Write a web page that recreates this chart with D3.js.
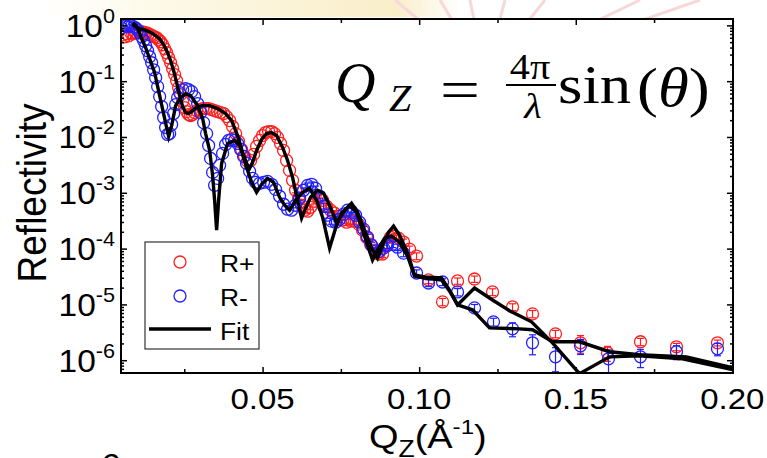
<!DOCTYPE html>
<html><head><meta charset="utf-8">
<script src="https://cdn.jsdelivr.net/npm/d3@7"></script>
<style>body{margin:0;background:#fff}svg{display:block}</style>
</head><body>
<svg id="chart" width="767" height="458"></svg>
<script>
// ---------- data ----------
const xTickValues = [0.05, 0.10, 0.15, 0.20];
const xTickLabels = ["0.05", "0.10", "0.15", "0.20"];
const xMinorTicks = [0.025, 0.075, 0.125, 0.175];
const yTickExponents = [0, -1, -2, -3, -4, -5, -6];
const xDomain = [0.0048, 0.2002];
const yDomain = [5.9e-7, 1.3];
const legendLabels = ["R+", "R-", "Fit"];

// [Qz, reflectivity, relative error]
const rPlus = [
[0.00533,0.676,0],[0.00597,0.623,0],[0.00661,0.705,0],[0.00725,0.649,0],[0.00788,0.735,0],[0.00852,0.705,0],[0.00916,0.766,0],[0.00980,0.735,0],[0.01044,0.766,0],[0.01108,0.766,0],[0.01171,0.766,0],[0.01235,0.735,0],[0.01299,0.735,0],[0.01363,0.705,0],[0.01427,0.676,0],[0.01491,0.649,0],[0.01554,0.623,0],[0.01618,0.598,0],[0.01682,0.551,0],[0.01746,0.508,0],[0.01810,0.449,0],[0.01874,0.380,0],[0.01937,0.323,0],[0.02001,0.263,0],[0.02065,0.214,0],[0.02129,0.167,0],[0.02193,0.131,0],[0.02257,0.102,0],[0.02320,0.0766,0],[0.02384,0.0574,0],[0.02448,0.0431,0],[0.02512,0.0336,0],[0.02576,0.0285,0],[0.02640,0.0252,0],[0.02703,0.0242,0],[0.02767,0.0252,0],[0.02831,0.0274,0],[0.02895,0.0297,0],[0.02991,0.0310,0],[0.03086,0.0323,0],[0.03182,0.0323,0],[0.03278,0.0323,0],[0.03373,0.0310,0],[0.03469,0.0297,0],[0.03565,0.0285,0],[0.03661,0.0274,0],[0.03756,0.0263,0],[0.03852,0.0232,0],[0.03948,0.0197,0],[0.04043,0.0154,0],[0.04139,0.0115,0],[0.04235,0.0083,0],[0.04331,0.00598,0],[0.04426,0.00449,0],[0.04522,0.00365,0],[0.04618,0.00380,0],[0.04713,0.00487,0],[0.04809,0.00676,0],[0.04905,0.00866,0],[0.05001,0.0106,0],[0.05096,0.0120,0],[0.05192,0.0125,0],[0.05288,0.0125,0],[0.05384,0.0115,0],[0.05479,0.0098,0],[0.05575,0.00766,0],[0.05671,0.00574,0],[0.05767,0.00380,0],[0.05862,0.00252,0],[0.05958,0.00167,0],
[0.06054,0.00111,0.1],[0.06150,0.00080,0.1],[0.06246,0.000598,0.1],[0.06341,0.000487,0.1],[0.06437,0.000468,0.1],[0.06533,0.000551,0.1],[0.06660,0.000705,0.1],[0.06788,0.00080,0.1],[0.06916,0.000735,0.1],[0.07043,0.000574,0.11],[0.07171,0.000487,0.11],[0.07299,0.000431,0.11],[0.07426,0.000380,0.12],[0.07554,0.000323,0.12],[0.07682,0.000297,0.12],[0.07809,0.000310,0.12],[0.07937,0.000310,0.12],[0.08065,0.000274,0.12],[0.08192,0.000214,0.13],[0.08320,0.000160,0.13],[0.08448,0.000120,0.13],[0.08575,9.4e-5,0.13],[0.08703,8.0e-5,0.14],[0.08831,8.0e-5,0.14],[0.08958,1.11e-4,0.13],[0.09086,1.60e-4,0.13],[0.09213,1.67e-4,0.13],[0.09341,1.54e-4,0.13],[0.09501,1.31e-4,0.13],[0.09692,9.8e-5,0.13],[0.09916,7.35e-5,0.14],[0.10299,2.74e-5,0.14],[0.10746,1.11e-5,0.15],[0.11225,2.63e-5,0.13],[0.11767,2.85e-5,0.13],[0.12342,1.67e-5,0.14],[0.12981,9.0e-6,0.14],[0.13619,6.76e-6,0.15],[0.14353,2.97e-6,0.15],[0.15151,2.05e-6,0.35],[0.16013,1.36e-6,0.3],[0.17066,2.14e-6,0.15],[0.18215,1.74e-6,0.15],[0.19524,2.05e-6,0.12]
];
const rMinus = [
[0.00501,0.90,0],[0.00565,1.02,0],[0.00629,0.98,0],[0.00693,0.94,0],[0.00756,1.02,0],[0.00820,0.98,0],[0.00884,0.94,0],[0.00948,0.90,0],[0.01012,0.83,0],[0.01076,0.735,0],[0.01140,0.623,0],[0.01203,0.529,0],[0.01267,0.431,0],[0.01331,0.351,0],[0.01395,0.274,0],[0.01459,0.214,0],[0.01522,0.160,0],[0.01586,0.115,0],[0.01650,0.0798,0],[0.01714,0.0529,0],[0.01778,0.0351,0],[0.01842,0.0223,0],[0.01905,0.0148,0],[0.01969,0.0111,0],[0.02033,0.0115,0],[0.02097,0.0167,0],[0.02161,0.0263,0],[0.02225,0.0380,0],[0.02288,0.0508,0],[0.02352,0.0623,0],[0.02448,0.0705,0],[0.02544,0.0735,0],[0.02640,0.0705,0],[0.02735,0.0649,0],[0.02831,0.0529,0],[0.02927,0.0397,0],[0.03022,0.0274,0],[0.03118,0.0181,0],[0.03214,0.0115,0],[0.03278,0.00705,0],[0.03342,0.00413,0],[0.03405,0.00232,0],[0.03469,0.00136,0],[0.03565,0.00181,0],[0.03629,0.00310,0],[0.03724,0.00508,0],[0.03820,0.00735,0],[0.03916,0.00866,0],[0.04012,0.0090,0],[0.04107,0.00866,0],[0.04203,0.00766,0],[0.04299,0.00598,0],[0.04394,0.00449,0],[0.04490,0.00336,0],[0.04586,0.00242,0],[0.04682,0.00181,0],[0.04777,0.00154,0],[0.04905,0.00148,0],[0.05033,0.00154,0],[0.05160,0.00160,0],[0.05288,0.00142,0],[0.05415,0.00115,0],[0.05543,8.66e-4,0],[0.05671,6.23e-4,0],[0.05799,5.08e-4,0],[0.05926,4.87e-4,0],
[0.06054,5.98e-4,0.1],[0.06182,8.0e-4,0.1],[0.06309,1.11e-3,0.1],[0.06437,1.36e-3,0.1],[0.06565,1.42e-3,0.1],[0.06692,1.20e-3,0.1],[0.06820,8.66e-4,0.1],[0.06948,5.74e-4,0.11],[0.07075,3.97e-4,0.12],[0.07203,3.10e-4,0.12],[0.07331,2.97e-4,0.12],[0.07458,3.36e-4,0.12],[0.07586,4.13e-4,0.11],[0.07714,4.87e-4,0.11],[0.07841,4.68e-4,0.11],[0.07969,3.97e-4,0.12],[0.08097,2.97e-4,0.12],[0.08224,2.23e-4,0.12],[0.08352,1.60e-4,0.13],[0.08480,1.15e-4,0.13],[0.08607,9.0e-5,0.14],[0.08735,9.0e-5,0.14],[0.08863,1.02e-4,0.13],[0.08990,1.15e-4,0.13],[0.09150,1.20e-4,0.13],[0.09309,1.06e-4,0.13],[0.09501,8.3e-5,0.14],[0.09916,3.65e-5,0.14],[0.10299,2.42e-5,0.14],[0.10746,2.52e-5,0.14],[0.11225,1.67e-5,0.15],[0.11767,8.66e-6,0.15],[0.12374,4.87e-6,0.16],[0.12981,3.65e-6,0.28],[0.13619,2.05e-6,0.39],[0.14353,1.15e-6,0.46],[0.15151,1.81e-6,0.3],[0.16045,1.06e-6,0.44],[0.17066,1.15e-6,0.36],[0.18215,1.42e-6,0.28],[0.19524,1.60e-6,0.25]
];
// [Qz, fitted reflectivity]
const fitPlus = [
[0.00852,1.06],[0.00948,0.94],[0.01076,0.866],[0.01235,0.83],[0.01395,0.766],[0.01554,0.676],[0.01714,0.574],[0.01842,0.449],[0.01969,0.323],[0.02065,0.232],[0.02161,0.154],[0.02257,0.094],[0.02352,0.0551],[0.02448,0.0351],[0.02544,0.0274],[0.02640,0.0263],[0.02767,0.0297],[0.02927,0.0351],[0.03086,0.0365],[0.03310,0.0365],[0.03565,0.0323],[0.03820,0.0263],[0.04012,0.0197],[0.04203,0.0106],[0.04363,0.00529],[0.04490,0.00336],[0.04586,0.00274],[0.04682,0.00351],[0.04809,0.00574],[0.04970,0.0090],[0.05129,0.0115],[0.05288,0.0120],[0.05448,0.0106],[0.05639,0.00649],[0.05799,0.00380],[0.05958,0.00189],[0.06118,7.35e-4],[0.06246,3.51e-4],[0.06374,5.29e-4],[0.06533,8.3e-4],[0.06756,1.11e-3],[0.06948,9.8e-4],[0.07139,5.98e-4],[0.07363,2.97e-4],[0.07586,4.49e-4],[0.07841,6.49e-4],[0.08034,4.49e-4],[0.08256,2.14e-4],[0.08480,1.02e-4],[0.08671,6.76e-5],[0.08863,1.25e-4],[0.09023,1.97e-4],[0.09182,2.52e-4],[0.09373,1.74e-4],[0.09628,8.3e-5],[0.09852,3.36e-5],[0.10172,3.10e-5],[0.10714,2.97e-5],[0.10969,1.81e-5],[0.11225,9.8e-6],[0.11767,1.97e-5],[0.12342,1.20e-5],[0.12949,7.35e-6],[0.13587,4.87e-6],[0.14257,2.05e-6],[0.15119,5.74e-7],[0.16077,1.15e-6],[0.17034,1.20e-6],[0.18407,1.06e-6],[0.2,6.76e-7]
];
const fitMinus = [
[0.00852,1.11],[0.00948,1.02],[0.01044,0.80],[0.01140,0.574],[0.01267,0.397],[0.01395,0.252],[0.01554,0.142],[0.01714,0.0551],[0.01874,0.0214],[0.02001,0.0102],[0.02097,0.0160],[0.02225,0.0365],[0.02384,0.0508],[0.02544,0.0598],[0.02703,0.0551],[0.02927,0.0365],[0.03086,0.0214],[0.03182,0.0115],[0.03310,0.00574],[0.03405,0.00205],[0.03469,7.35e-4],[0.03533,2.14e-4],[0.03597,7.35e-4],[0.03692,0.00336],[0.03884,0.00766],[0.04107,0.00866],[0.04267,0.00705],[0.04490,0.00285],[0.04650,0.00154],[0.04809,0.00102],[0.04970,0.00142],[0.05160,0.00181],[0.05353,0.00154],[0.05543,8.3e-4],[0.05704,5.98e-4],[0.05862,4.87e-4],[0.06054,7.35e-4],[0.06277,1.02e-3],[0.06501,1.20e-3],[0.06725,7.35e-4],[0.06916,3.65e-4],[0.07139,1.02e-4],[0.07331,2.32e-4],[0.07522,4.31e-4],[0.07777,5.98e-4],[0.08002,4.49e-4],[0.08192,2.14e-4],[0.08352,1.15e-4],[0.08511,6.23e-5],[0.08671,9.4e-5],[0.08894,1.54e-4],[0.09118,1.67e-4],[0.09373,1.31e-4],[0.09628,7.35e-5],[0.09852,3.23e-5],[0.10172,2.97e-5],[0.10714,2.74e-5],[0.10969,1.74e-5],[0.11225,9.8e-6],[0.11703,8.0e-6],[0.12246,3.80e-6],[0.13204,3.65e-6],[0.13619,3.51e-6],[0.14257,2.14e-6],[0.15119,2.14e-6],[0.16077,1.42e-6],[0.17034,1.25e-6],[0.18534,1.15e-6],[0.2,7.35e-7]
];

// ---------- drawing ----------
const L = 121, R = 733, T = 19, B = 373;
const SANS = "'Liberation Sans', Arial, sans-serif";
const SERIF = "'Liberation Serif', 'Times New Roman', serif";
const RED = "#ff1f1f", BLUE = "#2020ff";
const svg = d3.select("#chart");
const x = d3.scaleLinear().domain(xDomain).range([L, R]);
const y = d3.scaleLog().domain(yDomain).range([B, T]);

// text placed at (px,py), stretched horizontally by sx
function stxt(parent, px, py, size, sx, family) {
  return parent.append("text").attr("transform", `translate(${px},${py}) scale(${sx},1)`)
    .attr("x", 0).attr("y", 0).attr("font-family", family || SANS).attr("font-size", size);
}

// faint background watermark above the frame
const defs = svg.append("defs");
const wm = svg.append("g").attr("opacity", 0.5);
const grad = defs.append("linearGradient").attr("id", "wmg").attr("x1", 0).attr("x2", 1);
grad.append("stop").attr("offset", "0").attr("stop-color", "#fff");
grad.append("stop").attr("offset", "0.3").attr("stop-color", "#fbf3d0");
grad.append("stop").attr("offset", "0.85").attr("stop-color", "#f6df96");
grad.append("stop").attr("offset", "1").attr("stop-color", "#fff");
wm.append("rect").attr("x", 40).attr("y", 0).attr("width", 420).attr("height", 17).attr("fill", "url(#wmg)");
[[395,0],[440,0],[470,0],[505,0],[545,0],[640,0],[700,0]].forEach(p => {
  wm.append("line").attr("x1", 485).attr("y1", 75).attr("x2", p[0]).attr("y2", p[1])
    .attr("stroke", "#eeb3b3").attr("stroke-width", 3);
});

svg.append("rect").attr("x", L).attr("y", T).attr("width", R - L).attr("height", B - T).attr("fill", "#fff");

defs.append("clipPath").attr("id", "clip")
  .append("rect").attr("x", L).attr("y", T).attr("width", R - L).attr("height", B - T);
const plot = svg.append("g").attr("clip-path", "url(#clip)");

function drawSeries(data, color) {
  const g = plot.append("g");
  const withErr = data.filter(d => d[2] > 0);
  g.selectAll("line.eb").data(withErr).join("line")
    .attr("x1", d => x(d[0])).attr("x2", d => x(d[0]))
    .attr("y1", d => y(d[1] * (1 + d[2]))).attr("y2", d => y(d[1] * (1 - d[2])))
    .attr("stroke", color).attr("stroke-width", 1.2);
  [1, -1].forEach(s => {
    g.append("g").selectAll("line").data(withErr).join("line")
      .attr("x1", d => x(d[0]) - 3.5).attr("x2", d => x(d[0]) + 3.5)
      .attr("y1", d => y(d[1] * (1 + s * d[2]))).attr("y2", d => y(d[1] * (1 + s * d[2])))
      .attr("stroke", color).attr("stroke-width", 1.2);
  });
  g.selectAll("circle").data(data).join("circle")
    .attr("cx", d => x(d[0])).attr("cy", d => y(d[1])).attr("r", 6)
    .attr("fill", "none").attr("stroke", color).attr("stroke-width", 1.3);
}
drawSeries(rPlus, RED);
drawSeries(rMinus, BLUE);

const line = d3.line().x(d => x(d[0])).y(d => y(d[1]));
[fitPlus, fitMinus].forEach(f => {
  plot.append("path").attr("d", line(f)).attr("fill", "none")
    .attr("stroke", "#000").attr("stroke-width", 3.4).attr("stroke-linejoin", "miter").attr("stroke-miterlimit", 6);
});

// axes ticks (inward)
const majorY = yTickExponents.map(k => Math.pow(10, k));
const minorY = [];
for (let k = -7; k <= 0; k++) for (let m = 2; m <= 9; m++) {
  const v = m * Math.pow(10, k);
  if (v >= yDomain[0] && v <= yDomain[1]) minorY.push(v);
}
function styleAxis(g) {
  g.select(".domain").remove();
  g.selectAll(".tick line").attr("stroke", "#000").attr("stroke-width", 1.5);
  g.selectAll(".tick text").remove();
}
svg.append("g").attr("transform", `translate(0,${B})`).call(d3.axisBottom(x).tickValues(xTickValues).tickSize(-6)).call(styleAxis);
svg.append("g").attr("transform", `translate(0,${B})`).call(d3.axisBottom(x).tickValues(xMinorTicks).tickSize(-4)).call(styleAxis);
svg.append("g").attr("transform", `translate(0,${T})`).call(d3.axisTop(x).tickValues(xTickValues).tickSize(-6)).call(styleAxis);
svg.append("g").attr("transform", `translate(0,${T})`).call(d3.axisTop(x).tickValues(xMinorTicks).tickSize(-4)).call(styleAxis);
svg.append("g").attr("transform", `translate(${L},0)`).call(d3.axisLeft(y).tickValues(majorY).tickSize(-6)).call(styleAxis);
svg.append("g").attr("transform", `translate(${L},0)`).call(d3.axisLeft(y).tickValues(minorY).tickSize(-3)).call(styleAxis);
svg.append("g").attr("transform", `translate(${R},0)`).call(d3.axisRight(y).tickValues(majorY).tickSize(-6)).call(styleAxis);
svg.append("g").attr("transform", `translate(${R},0)`).call(d3.axisRight(y).tickValues(minorY).tickSize(-3)).call(styleAxis);

svg.append("rect").attr("x", L).attr("y", T).attr("width", R - L).attr("height", B - T)
  .attr("fill", "none").attr("stroke", "#000").attr("stroke-width", 2);

// tick labels
const labels = svg.append("g");
xTickValues.forEach((v, i) => {
  stxt(labels, x(v), 409, 30, 1.1).attr("text-anchor", "middle").text(xTickLabels[i]);
});
yTickExponents.forEach(k => {
  const t = stxt(labels, 115, y(Math.pow(10, k)) + 11.5, 31, 1.08).attr("text-anchor", "end");
  t.append("tspan").text("10");
  t.append("tspan").attr("font-size", 20).attr("dy", -14).text(k === 0 ? "0" : "-" + (-k));
});

// axis titles
svg.append("text").attr("transform", "translate(46,193) scale(1.08,1) rotate(-90)").attr("text-anchor", "middle")
  .attr("font-family", SANS).attr("font-size", 37).text("Reflectivity");
const xt = stxt(svg, 369, 448, 33, 1.15);
xt.append("tspan").text("Q");
xt.append("tspan").attr("font-size", 23).attr("dy", 9).text("Z");
xt.append("tspan").attr("dy", -9).text("(Å");
xt.append("tspan").attr("font-size", 21).attr("dy", -14).text("-1");
xt.append("tspan").attr("dy", 14).text(")");
stxt(svg, 101, 476, 32, 1.1).text("6");

// formula
const fm = svg.append("g");
stxt(fm, 335, 102, 56, 1.0, SERIF).attr("font-style", "italic").text("Q");
stxt(fm, 389, 111, 37, 1.08, SERIF).attr("font-style", "italic").text("Z");
stxt(fm, 440, 109, 56, 1.0, SERIF).attr("textLength", 40).attr("lengthAdjust", "spacingAndGlyphs").text("=");
stxt(fm, 530, 79, 36, 1.12, SERIF).attr("text-anchor", "middle").text("4π");
fm.append("line").attr("x1", 506).attr("x2", 556).attr("y1", 85).attr("y2", 85).attr("stroke", "#000").attr("stroke-width", 2);
stxt(fm, 533, 118, 36, 1.12, SERIF).attr("font-style", "italic").attr("text-anchor", "middle").text("λ");
stxt(fm, 558, 103, 56, 1.12, SERIF).text("sin");
const par = stxt(fm, 637, 106, 56, 1.12, SERIF);
par.append("tspan").text("(");
par.append("tspan").attr("font-style", "italic").text("θ");
par.append("tspan").text(")");

// legend
const lg = svg.append("g");
lg.append("rect").attr("x", 145).attr("y", 242).attr("width", 114).attr("height", 107)
  .attr("fill", "#fff").attr("stroke", "#333").attr("stroke-width", 1.2);
lg.append("circle").attr("cx", 180).attr("cy", 262).attr("r", 6).attr("fill", "none").attr("stroke", RED).attr("stroke-width", 1.3);
lg.append("circle").attr("cx", 180).attr("cy", 296).attr("r", 6).attr("fill", "none").attr("stroke", BLUE).attr("stroke-width", 1.3);
lg.append("line").attr("x1", 149).attr("x2", 211).attr("y1", 329).attr("y2", 329).attr("stroke", "#000").attr("stroke-width", 3.4);
legendLabels.forEach((d, i) => {
  stxt(lg, 220, 272 + i * 34, 24, 1.1).text(d);
});
</script>
</body></html>
